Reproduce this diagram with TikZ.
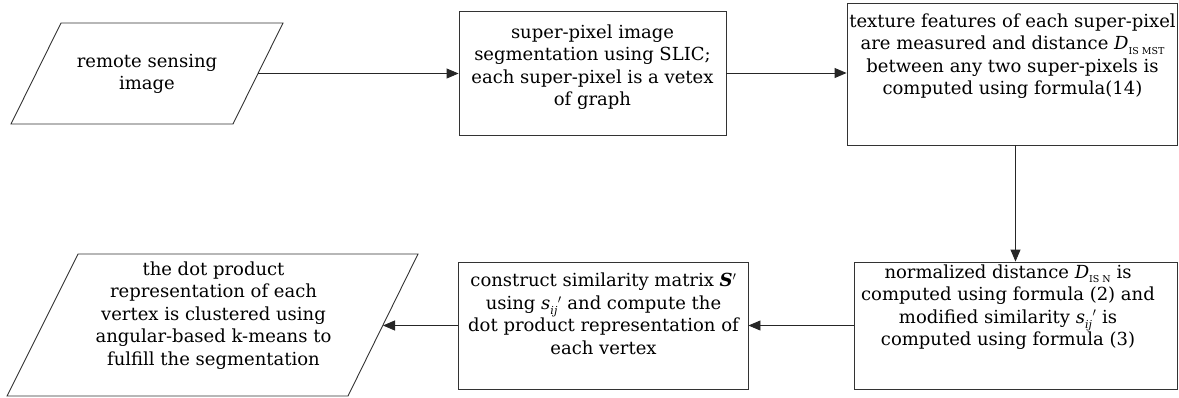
\documentclass[tikz,border=0pt]{standalone}
\usepackage{fontspec}
\setmainfont{DejaVu Serif}
\usetikzlibrary{arrows.meta}
\newcommand{\mysub}[1]{\raisebox{-4.5pt}{\fontsize{9.5}{9.5}\selectfont #1}}
\newcommand{\sij}{\textit{s}\raisebox{-5pt}{\fontsize{11}{11}\selectfont\itshape ij}\kern0.5pt$'$}
\begin{document}
\begin{tikzpicture}[x=1pt,y=-1pt,
  shapeline/.style={draw=black!80, line width=0.9pt},
  box/.style={shapeline, rectangle, inner sep=0pt},
  txt/.style={align=center, font=\fontsize{18}{22.5}\selectfont, inner sep=0pt},
  arr/.style={-{Triangle[length=12pt,width=10pt]}, line width=0.9pt, draw=black!85, fill=black!85},
]
\useasboundingbox (0,0) rectangle (1179,397);
% parallelogram 1
\draw[shapeline] (61,23) -- (283,23) -- (233,124) -- (11,124) -- cycle;
\coordinate (p1e) at (258,73.5);
\node[txt] (p1t) at (147,74) {remote sensing\\image};
\node[box, minimum width=267pt, minimum height=124pt] (b2) at (592.5,73) {};
\node[txt] (b2t) at (592.5,67) {super-pixel image\\segmentation using SLIC;\\each super-pixel is a vetex\\of graph};
\node[box, minimum width=330pt, minimum height=142pt] (b3) at (1012,74) {};
\node[txt] (b3t) at (1012.5,56) {texture features of each super-pixel\\are measured and distance \textit{D}\mysub{IS MST}\\between any two super-pixels is\\computed using formula(14)};
\node[box, minimum width=323pt, minimum height=127pt] (b4) at (1015.5,325.5) {};
\node[txt] (b4t) at (1008,307) {normalized distance \textit{D}\mysub{IS N} is\\computed using formula (2) and\\modified similarity \sij{} is\\computed using formula (3)};
\node[box, minimum width=290pt, minimum height=127pt] (b5) at (603,325.5) {};
\node[txt] (b5t) at (603.5,314) {construct similarity matrix \textbf{\textit{S}}$'$\\using \sij{} and compute the\\dot product representation of\\each vertex};
% parallelogram 2
\draw[shapeline] (78,254) -- (418,254) -- (348,396) -- (7,396) -- cycle;
\coordinate (p2e) at (383,325);
\node[txt] (p2t) at (213.5,315.5) {the dot product\\representation of each\\vertex is clustered using\\angular-based k-means to\\fulfill the segmentation};
\draw[arr] (p1e) -- (p1e -| b2.west);
\draw[arr] (b2.east) -- (b2.east -| b3.west);
\draw[arr] (b4.north |- b3.south) -- (b4.north);
\draw[arr] (b4.west) -- (b4.west -| b5.east);
\draw[arr] (b5.west) -- (b5.west -| p2e);
\end{tikzpicture}
\end{document}
